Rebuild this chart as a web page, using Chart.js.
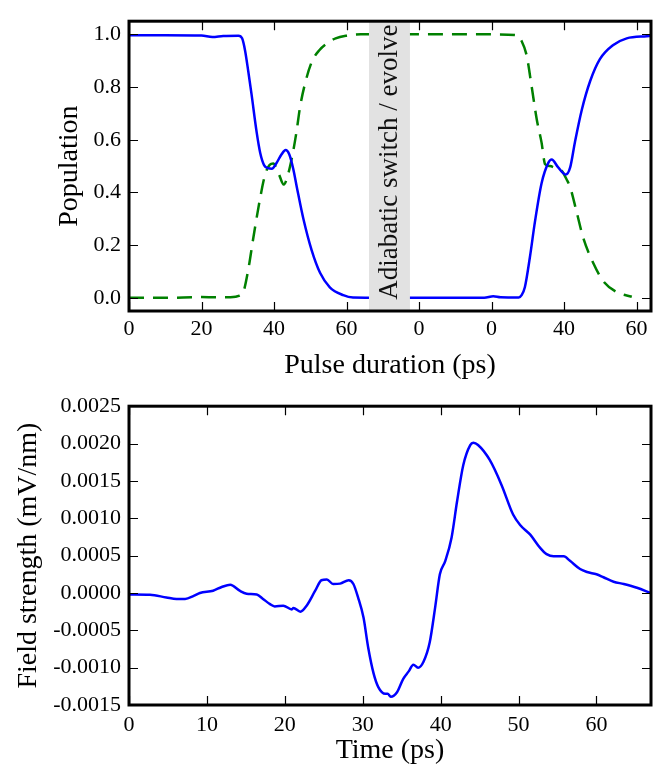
<!DOCTYPE html>
<html lang="en">
<head>
    <meta charset="UTF-8">
    <title>Population and field strength</title>
    <style>
        body {
            margin: 0;
            background: #fff;
        }
        .panel {
            position: absolute;
            left: 0;
        }
    </style>
    <script src="https://cdn.jsdelivr.net/npm/chart.js"></script>
</head>
<body>
    <div class="panel" style="top:0"><canvas id="popChart" width="656" height="385"></canvas></div>
    <div class="panel" style="top:385px"><canvas id="fieldChart" width="656" height="389"></canvas></div>

    <script>
        // --- top panel: populations vs pulse duration (one continuous axis, relabelled) ---
        const groundX = [0, 10, 20, 23, 26, 30.2, 31.2, 32.0, 32.9, 33.8, 35.2, 36.2, 37.3, 38.4, 39.4, 40.7, 42.1, 43.2, 44.2, 45.3, 46.3, 48.1, 50.4, 52.7, 55.4, 59.1, 61.8, 70, 80, 90, 98, 100.5, 102.5, 107.5, 108.3, 109.2, 110.6, 112.0, 113.8, 115.7, 116.6, 118.4, 120.5, 121.7, 123.0, 124.9, 127.2, 129.9, 133.6, 137.3, 142.8, 144];
        const groundPop = [0.997, 0.997, 0.996, 0.99, 0.994, 0.995, 0.985, 0.94, 0.86, 0.773, 0.63, 0.55, 0.503, 0.492, 0.49, 0.512, 0.545, 0.561, 0.545, 0.49, 0.42, 0.30, 0.18, 0.095, 0.04, 0.01, 0.001, 0.0, 0.0, 0.0, 0.0, 0.006, 0.002, 0.001, 0.01, 0.04, 0.155, 0.29, 0.434, 0.513, 0.525, 0.495, 0.468, 0.495, 0.59, 0.713, 0.822, 0.906, 0.96, 0.985, 0.993, 0.994];

        const excitedX = [0, 10, 20, 24, 28, 30.5, 31.5, 32.9, 34.3, 36.1, 37.5, 38.8, 39.8, 41.2, 42.7, 44.0, 45.2, 46.2, 47.2, 48.5, 50.4, 52.5, 54.5, 57, 60, 64, 70, 80, 90, 100, 107.0, 108.3, 109.7, 111.1, 112.5, 113.8, 114.8, 116.1, 118.0, 119.5, 120.7, 121.7, 123.5, 125.3, 128.1, 130.8, 134.5, 138.7];
        const excitedPop = [0.0, 0.0, 0.003, 0.002, 0.002, 0.008, 0.02, 0.107, 0.228, 0.373, 0.465, 0.505, 0.51, 0.475, 0.43, 0.475, 0.55, 0.63, 0.725, 0.81, 0.895, 0.94, 0.965, 0.985, 0.995, 1.0, 1.0, 1.0, 1.0, 1.0, 0.997, 0.975, 0.92, 0.80, 0.676, 0.59, 0.507, 0.50, 0.49, 0.48, 0.45, 0.42, 0.325, 0.228, 0.131, 0.064, 0.022, 0.004];

        const pulseTicks = [0, 20, 40, 60, 80, 100, 120, 140];
        const pulseTickLabels = ['0', '20', '40', '60', '0', '0', '40', '60'];
        const popTicks = [0, 0.2, 0.4, 0.6, 0.8, 1.0];
        const switchBand = [66.2, 77.5];
        const switchLabel = 'Adiabatic switch / evolve';

        // --- bottom panel: field strength vs time ---
        const timeX = [0, 2.7, 4.8, 6.1, 7.2, 8.3, 9.1, 10.8, 11.9, 13.0, 14.2, 15.1, 16.4, 17.2, 18.1, 18.7, 19.8, 20.9, 21.1, 22.0, 22.8, 23.9, 24.7, 25.4, 26.2, 27.1, 28.2, 28.8, 29.4, 30.1, 30.7, 31.4, 32.0, 32.9, 33.2, 33.6, 34.4, 35.2, 35.9, 36.5, 37.1, 37.8, 38.6, 39.3, 39.9, 40.6, 41.4, 42.1, 42.9, 43.8, 44.2, 44.8, 46.3, 47.8, 49.3, 50.2, 51.5, 52.8, 53.6, 54.5, 55.8, 56.6, 57.9, 58.8, 60.0, 60.9, 62.2, 63.5, 65.2, 66.9];
        const fieldStrength = [-0.00002, -0.000025, -0.00006, -0.00008, -0.00008, -0.00004, 0.0, 0.00003, 0.00008, 0.00011, 0.00003, -0.00001, -0.00002, -0.00008, -0.00015, -0.00018, -0.00017, -0.00022, -0.0002, -0.00025, -0.00017, 0.00003, 0.00017, 0.00018, 0.00012, 0.000125, 0.00017, 0.00012, -0.00006, -0.00033, -0.00073, -0.00108, -0.00126, -0.00135, -0.00135, -0.00139, -0.00133, -0.00115, -0.00105, -0.00096, -0.001, -0.00092, -0.00066, -0.00019, 0.00025, 0.00043, 0.00074, 0.00122, 0.00171, 0.00198, 0.00201, 0.00198, 0.00178, 0.00145, 0.00105, 0.00091, 0.00078, 0.0006, 0.00052, 0.00049, 0.00049, 0.00043, 0.00032, 0.00028, 0.00025, 0.00021, 0.00015, 0.00012, 0.00007, 0.0];

        const timeTicks = [0, 10, 20, 30, 40, 50, 60];
        const fieldTicks = [-0.0015, -0.001, -0.0005, 0, 0.0005, 0.001, 0.0015, 0.002, 0.0025];

        const serif = "'Liberation Serif', 'Times New Roman', serif";
        Chart.defaults.font.family = serif;
        Chart.defaults.color = '#000';

        const toPoints = (xs, ys) => xs.map((x, i) => ({x: x, y: ys[i]}));

        // black frame plus inward ticks on all four sides
        const frameTicks = {
            id: 'frameTicks',
            afterDraw(chart) {
                const {ctx, chartArea: a, scales: {x, y}} = chart;
                ctx.save();
                ctx.strokeStyle = '#000';
                ctx.lineWidth = 1.2;
                ctx.beginPath();
                x.ticks.forEach(t => {
                    const px = Math.round(x.getPixelForValue(t.value)) + 0.5;
                    ctx.moveTo(px, a.bottom); ctx.lineTo(px, a.bottom - 9);
                    ctx.moveTo(px, a.top); ctx.lineTo(px, a.top + 9);
                });
                y.ticks.forEach(t => {
                    const py = Math.round(y.getPixelForValue(t.value)) + 0.5;
                    ctx.moveTo(a.left, py); ctx.lineTo(a.left + 9, py);
                    ctx.moveTo(a.right, py); ctx.lineTo(a.right - 9, py);
                });
                ctx.stroke();
                ctx.lineWidth = 3;
                ctx.strokeRect(a.left, a.top, a.width, a.height);
                ctx.restore();
            }
        };

        // grey band hiding the switch region, with its vertical label
        const switchBandPlugin = {
            id: 'switchBand',
            afterDatasetsDraw(chart) {
                const {ctx, chartArea: a, scales: {x}} = chart;
                const x0 = x.getPixelForValue(switchBand[0]);
                const x1 = x.getPixelForValue(switchBand[1]);
                ctx.save();
                ctx.fillStyle = '#e2e2e2';
                ctx.fillRect(x0, a.top, x1 - x0, a.height);
                ctx.translate((x0 + x1) / 2, (a.top + a.bottom) / 2 - 4);
                ctx.rotate(-Math.PI / 2);
                ctx.font = '27px ' + serif;
                ctx.fillStyle = '#111';
                ctx.textAlign = 'center';
                ctx.textBaseline = 'middle';
                ctx.fillText(switchLabel, 0, 0);
                ctx.restore();
            }
        };

        new Chart(document.getElementById('popChart').getContext('2d'), {
            type: 'line',
            data: {
                datasets: [{
                    data: toPoints(groundX, groundPop),
                    borderColor: '#0000ff',
                    borderWidth: 2.5,
                    pointRadius: 0,
                    cubicInterpolationMode: 'monotone'
                }, {
                    data: toPoints(excitedX, excitedPop),
                    borderColor: '#008000',
                    borderWidth: 2.5,
                    borderDash: [15, 9],
                    pointRadius: 0,
                    cubicInterpolationMode: 'monotone'
                }]
            },
            options: {
                responsive: false,
                animation: false,
                layout: {padding: {top: 8, right: 5, left: 0, bottom: 0}},
                plugins: {legend: {display: false}, tooltip: {enabled: false}},
                scales: {
                    x: {
                        type: 'linear',
                        min: 0,
                        max: 144,
                        grid: {display: false, drawTicks: false},
                        border: {display: false},
                        afterBuildTicks: s => { s.ticks = pulseTicks.map(v => ({value: v})); },
                        afterFit: s => { s.height = 74; },
                        ticks: {
                            padding: 5,
                            font: {size: 22},
                            maxRotation: 0,
                            callback: v => pulseTickLabels[pulseTicks.indexOf(v)]
                        },
                        title: {display: true, text: 'Pulse duration (ps)', font: {size: 28}, padding: {top: 0, bottom: 3}}
                    },
                    y: {
                        min: -0.05,
                        max: 1.05,
                        grid: {display: false, drawTicks: false},
                        border: {display: false},
                        afterBuildTicks: s => { s.ticks = popTicks.map(v => ({value: v})); },
                        afterFit: s => { s.width = 129; },
                        ticks: {
                            padding: 8,
                            font: {size: 22},
                            callback: v => v.toFixed(1)
                        },
                        title: {display: true, text: 'Population', font: {size: 28}, padding: {top: 53, bottom: 0}}
                    }
                }
            },
            plugins: [switchBandPlugin, frameTicks]
        });

        new Chart(document.getElementById('fieldChart').getContext('2d'), {
            type: 'line',
            data: {
                datasets: [{
                    data: toPoints(timeX, fieldStrength),
                    borderColor: '#0000ff',
                    borderWidth: 2.5,
                    pointRadius: 0,
                    cubicInterpolationMode: 'monotone'
                }]
            },
            options: {
                responsive: false,
                animation: false,
                layout: {padding: {top: 19, right: 5, left: 0, bottom: 0}},
                plugins: {legend: {display: false}, tooltip: {enabled: false}},
                scales: {
                    x: {
                        type: 'linear',
                        min: 0,
                        max: 67,
                        grid: {display: false, drawTicks: false},
                        border: {display: false},
                        afterBuildTicks: s => { s.ticks = timeTicks.map(v => ({value: v})); },
                        afterFit: s => { s.height = 69; },
                        ticks: {padding: 7, font: {size: 22}, maxRotation: 0},
                        title: {display: true, text: 'Time (ps)', font: {size: 28}, padding: {top: 0, bottom: 7}}
                    },
                    y: {
                        min: -0.0015,
                        max: 0.0025,
                        grid: {display: false, drawTicks: false},
                        border: {display: false},
                        afterBuildTicks: s => { s.ticks = fieldTicks.map(v => ({value: v})); },
                        afterFit: s => { s.width = 129; },
                        ticks: {
                            padding: 8,
                            font: {size: 22},
                            callback: v => v.toFixed(4)
                        },
                        title: {display: true, text: 'Field strength (mV/nm)', font: {size: 28}, padding: {top: 12, bottom: 0}}
                    }
                }
            },
            plugins: [frameTicks]
        });
    </script>
</body>
</html>
